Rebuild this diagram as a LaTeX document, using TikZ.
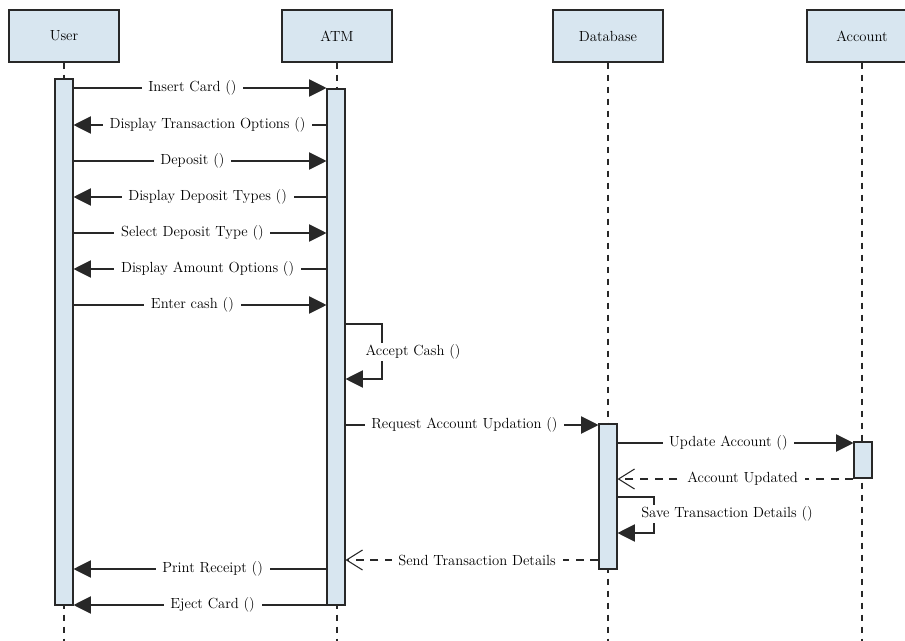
\documentclass[tikz,border=0pt]{standalone}
\usetikzlibrary{arrows.meta}
\definecolor{boxblue}{RGB}{216,230,240}
\definecolor{linegray}{RGB}{40,40,40}

\begin{document}
\begin{tikzpicture}[x=0.75pt,y=-0.75pt,font=\fontsize{11}{13}\selectfont,
	head/.style={draw=linegray, fill=boxblue, line width=0.8pt, minimum width=82.5pt, minimum height=39pt, text=black},
	actbar/.style={draw=linegray, fill=boxblue, line width=0.8pt, minimum width=13.5pt, inner sep=0pt},
	lifeline/.style={draw=linegray, line width=0.8pt, dash pattern=on 5pt off 4pt},
	msg/.style={draw=linegray, line width=0.8pt, -{Triangle[length=13pt,width=13pt]}},
	reply/.style={draw=linegray, line width=0.8pt, dash pattern=on 6pt off 5pt, -{Straight Barb[length=12pt,width=15pt]}},
	lbltext/.style={fill=white, text=black, inner xsep=5pt, inner ysep=1pt},
	lbl/.style={lbltext, pos=0.47}]
	\useasboundingbox (0,0) rectangle (905,641);
	\clip (0,0) rectangle (905,641);

	\node[head] (user) at (64,36) {User};
	\node[head] (atm) at (337,36) {ATM};
	\node[head] (db) at (608,36) {Database};
	\node[head] (acc) at (862,36) {Account};

	\draw[lifeline] (user.south) -- (user.south |- 0,641);%lifelines
	\draw[lifeline] (atm.south) -- (atm.south |- 0,641);
	\draw[lifeline] (db.south) -- (db.south |- 0,641);
	\draw[lifeline] (acc.south) -- (acc.south |- 0,641);

	\node[actbar, minimum height=394.5pt] (userbar) at (64,342) {};%activation bars
	\node[actbar, minimum height=387pt] (atmbar) at (336,347) {};
	\node[actbar, minimum height=108.75pt] (dbbar) at (608,496.5) {};
	\node[actbar, minimum height=27pt] (accbar) at (863,460) {};

	\draw[msg] (userbar.east |- 0,88) -- node[lbl] {Insert Card ()} (atmbar.west |- 0,88);
	\draw[msg] (atmbar.west |- 0,125) -- node[lbl] {Display Transaction Options ()} (userbar.east |- 0,125);
	\draw[msg] (userbar.east |- 0,161) -- node[lbl] {Deposit ()} (atmbar.west |- 0,161);
	\draw[msg] (atmbar.west |- 0,197) -- node[lbl] {Display Deposit Types ()} (userbar.east |- 0,197);
	\draw[msg] (userbar.east |- 0,233) -- node[lbl] {Select Deposit Type ()} (atmbar.west |- 0,233);
	\draw[msg] (atmbar.west |- 0,269) -- node[lbl] {Display Amount Options ()} (userbar.east |- 0,269);
	\draw[msg] (userbar.east |- 0,305) -- node[lbl] {Enter cash ()} (atmbar.west |- 0,305);

	\draw[msg] (atmbar.east |- 0,324) -- (382,324) -- (382,379) -- (atmbar.east |- 0,379);%self call
	\node[lbltext, inner xsep=2pt] (acceptlbl) at (413,352) {Accept Cash ()};

	\draw[msg] (atmbar.east |- 0,425) -- node[lbl] {Request Account Updation ()} (dbbar.west |- 0,425);
	\draw[msg] (dbbar.east |- 0,443) -- node[lbl] {Update Account ()} (accbar.west |- 0,443);
	\draw[reply] (accbar.west |- 0,479) -- node[lbl] {Account Updated} (dbbar.east |- 0,479);

	\draw[msg] (dbbar.east |- 0,497) -- (654,497) -- (654,533) -- (dbbar.east |- 0,533);%self call
	\node[lbltext, inner xsep=2pt] (savelbl) at (727,514) {Save Transaction Details ()};

	\draw[reply] (dbbar.west |- 0,560) -- node[lbl, pos=0.48] {Send Transaction Details} (atmbar.east |- 0,560);
	\draw[msg] (atmbar.west |- 0,569) -- node[lbl, pos=0.45] {Print Receipt ()} (userbar.east |- 0,569);
	\draw[msg] (atmbar.west |- 0,605) -- node[lbl, pos=0.45] {Eject Card ()} (userbar.east |- 0,605);
\end{tikzpicture}
\end{document}
